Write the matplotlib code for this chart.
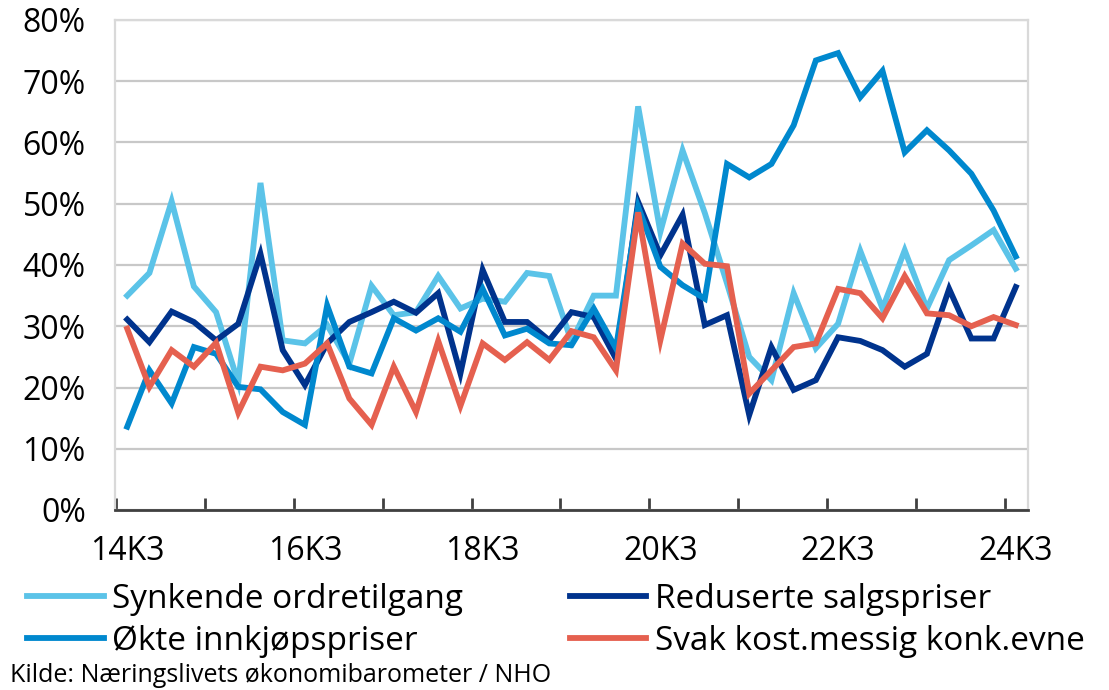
# -*- coding: utf-8 -*-
"""Konjunktur: andel bedrifter som melder om ulike forhold, 14K3-24K3."""
import matplotlib
matplotlib.use("Agg")
import matplotlib.pyplot as plt
from matplotlib.ticker import FixedLocator, FuncFormatter

plt.rcParams["font.family"] = ["Open Sans", "DejaVu Sans"]

LIGHT = "#5BC3E8"; MID = "#0088CE"; NAVY = "#00338D"; RED = "#E5604F"
GRID = "#C8C8C8"; BORDER = "#D9D9D9"; AXIS = "#404040"

# kvartaler 14K3 .. 24K3
quarters = [f"{y:02d}K{q}" for y in range(14, 25) for q in range(1, 5)][2:-1]
tick_labels = ["14K3", "16K3", "18K3", "20K3", "22K3", "24K3"]

synkende = [35.0, 38.7, 50.4, 36.5, 32.3, 20.8, 53.4, 27.7, 27.2, 30.2,
            23.9, 36.6, 31.8, 32.3, 38.2, 32.9, 34.5, 34.0, 38.7, 38.2,
            27.5, 35.0, 35.0, 65.9, 45.4, 58.7, 48.5, 37.0, 25.0, 21.2,
            35.4, 26.4, 30.4, 42.3, 32.9, 42.4, 32.9, 40.8, 43.2, 45.7, 39.4]
reduserte = [31.1, 27.4, 32.4, 30.7, 27.7, 30.4, 41.8, 26.1, 20.4, 27.2,
             30.7, 32.3, 34.0, 32.2, 35.4, 22.3, 39.2, 30.7, 30.7, 27.7,
             32.3, 31.5, 24.7, 50.3, 41.6, 48.2, 30.2, 31.8, 15.5, 26.6,
             19.6, 21.2, 28.2, 27.6, 26.1, 23.4, 25.5, 36.1, 28.0, 28.0, 36.4]
okte = [13.6, 22.8, 17.4, 26.6, 25.5, 20.1, 19.7, 16.0, 13.9, 33.4,
        23.4, 22.3, 31.3, 29.3, 31.3, 29.1, 36.1, 28.5, 29.6, 27.2,
        26.9, 32.9, 26.4, 49.5, 39.7, 36.7, 34.5, 56.5, 54.3, 56.5,
        62.8, 73.4, 74.6, 67.4, 71.7, 58.4, 62.0, 58.7, 54.9, 48.9, 41.4]
svak = [29.6, 20.1, 26.1, 23.4, 27.3, 15.9, 23.4, 22.8, 23.9, 27.2,
        18.2, 13.9, 23.4, 16.0, 27.6, 17.0, 27.2, 24.5, 27.4, 24.5,
        29.2, 28.2, 22.8, 48.6, 27.7, 43.5, 40.2, 39.8, 19.0, 22.8,
        26.6, 27.2, 36.1, 35.4, 31.3, 38.2, 32.1, 31.8, 30.0, 31.5, 30.2]

W, H = 1109, 690
fig = plt.figure(figsize=(W / 100, H / 100), dpi=100)
ax = fig.add_axes([115 / W, (H - 510) / H, (1028 - 115) / W, (510 - 20) / H])

x = list(range(len(quarters)))
series = [("Synkende ordretilgang", synkende, LIGHT),
          ("Reduserte salgspriser", reduserte, NAVY),
          ("Økte innkjøpspriser", okte, MID),
          ("Svak kost.messig konk.evne", svak, RED)]
lines = {}
for name, vals, c in series:
    lines[name], = ax.plot(x, vals, color=c, lw=4.2, solid_joinstyle="miter", label=name)

ax.set_xlim(-0.55, len(quarters) - 0.45)
ax.set_ylim(0, 80)

# y-akse
ax.set_yticks(range(0, 81, 10))
ax.yaxis.set_major_formatter(FuncFormatter(lambda v, p: f"{v:.0f}%"))
ax.tick_params(axis="y", length=0, pad=21, labelsize=23)
ax.grid(axis="y", color=GRID, lw=1.6)
ax.set_axisbelow(True)

# x-akse: streker mellom år, etiketter hvert andre år
ax.xaxis.set_major_locator(FixedLocator([i - 0.5 for i in range(0, len(quarters), 4)]))
ax.xaxis.set_major_formatter(FuncFormatter(lambda v, p: ""))
ax.xaxis.set_minor_locator(FixedLocator([quarters.index(t) for t in tick_labels]))
ax.set_xticklabels(tick_labels, minor=True)
ax.tick_params(axis="x", which="major", direction="in", length=8.5, width=2, color=AXIS)
ax.tick_params(axis="x", which="minor", length=0, pad=18, labelsize=23)

for s in ["left", "top", "right"]:
    ax.spines[s].set_color(BORDER)
    ax.spines[s].set_linewidth(1.6)
ax.spines["bottom"].set_color(AXIS)
ax.spines["bottom"].set_linewidth(2)

order = ["Synkende ordretilgang", "Økte innkjøpspriser",
         "Reduserte salgspriser", "Svak kost.messig konk.evne"]
fig.legend([lines[n] for n in order], order, loc="upper left",
           bbox_to_anchor=(27 / W, 1 - 583 / H), ncol=2, frameon=False,
           fontsize=24, handlelength=2.3, handletextpad=0.25, columnspacing=3.2,
           labelspacing=0.27, borderpad=0, borderaxespad=0)

fig.text(10 / W, 1 - 675 / H, "Kilde: Næringslivets økonomibarometer / NHO",
         fontsize=18, va="center", ha="left")

fig.savefig("out.png", dpi=100, facecolor="white")
